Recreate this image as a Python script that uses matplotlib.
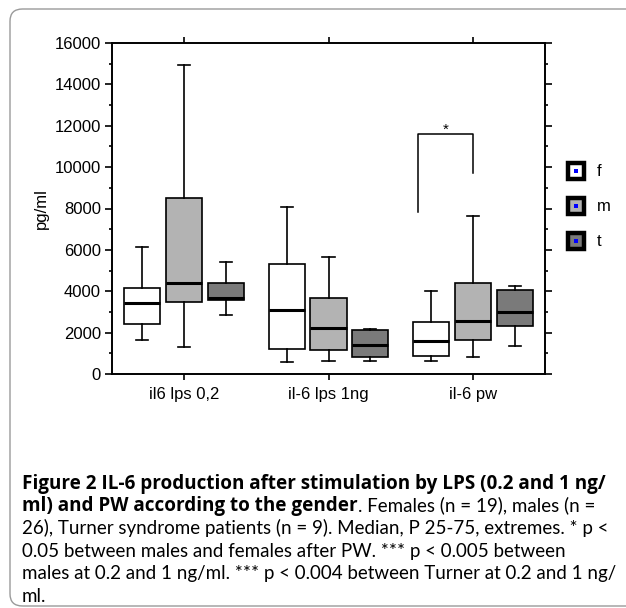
import matplotlib.pyplot as plt
from matplotlib.lines import Line2D
from matplotlib.patches import FancyBboxPatch
from matplotlib.legend_handler import HandlerTuple

categories = ['il6 lps 0,2', 'il-6 lps 1ng', 'il-6 pw']
groups = ['f', 'm', 't']
colors = {'f': '#ffffff', 'm': '#b3b3b3', 't': '#7a7a7a'}

# per group: whisker low, q1, median, q3, whisker high (one value per category)
whislo = {'f': [1650, 570, 650], 'm': [1320, 650, 810], 't': [2830, 650, 1330]}
q1 = {'f': [2410, 1230, 890], 'm': [3480, 1150, 1630], 't': [3570, 810, 2310]}
med = {'f': [3410, 3070, 1580], 'm': [4400, 2230, 2570], 't': [3670, 1390, 2990]}
q3 = {'f': [4170, 5320, 2490], 'm': [8500, 3650, 4400], 't': [4410, 2150, 4070]}
whishi = {'f': [6140, 8080, 3990], 'm': [14920, 5660, 7640], 't': [5400, 2170, 4250]}

# significance bracket after PW (females vs males)
sig_left_bottom = 7820
sig_right_bottom = 9710
sig_top = 11590

yticks = list(range(0, 16001, 2000))

caption_lines = [
    [('Figure 2 IL-6 production after stimulation by LPS (0.2 and 1 ng/', 'bold')],
    [('ml) and PW according to the gender', 'bold'),
     ('. Females (n = 19), males (n =', 'normal')],
    [('26), Turner syndrome patients (n = 9). Median, P 25-75, extremes. * p <', 'normal')],
    [('0.05 between males and females after PW. *** p < 0.005 between', 'normal')],
    [('males at 0.2 and 1 ng/ml. *** p < 0.004 between Turner at 0.2 and 1 ng/', 'normal')],
    [('ml.', 'normal')],
]

plt.rcParams['font.family'] = ['Liberation Sans', 'DejaVu Sans']

fig = plt.figure(figsize=(6.26, 6.08), dpi=100)
fig.patches.append(FancyBboxPatch((10 / 626, 2 / 608), 640 / 626, 597 / 608,
                                  boxstyle='round,pad=0,rounding_size=0.02',
                                  transform=fig.transFigure, fill=False,
                                  edgecolor='#9a9a9a', lw=1.0, clip_on=False))

ax = fig.add_axes([112 / 626, 1 - 374 / 608, 433 / 626, 331 / 608])

offsets = {'f': -0.29, 'm': 0.0, 't': 0.29}
for g in groups:
    stats = []
    for i in range(len(categories)):
        stats.append({'whislo': whislo[g][i], 'q1': q1[g][i], 'med': med[g][i],
                      'q3': q3[g][i], 'whishi': whishi[g][i], 'fliers': []})
    pos = [i + offsets[g] for i in range(len(categories))]
    ax.bxp(stats, positions=pos, widths=0.25, capwidths=0.085, patch_artist=True,
           showfliers=False, manage_ticks=False,
           boxprops=dict(facecolor=colors[g], edgecolor='black', linewidth=1.2),
           medianprops=dict(color='black', linewidth=2.2),
           whiskerprops=dict(color='black', linewidth=1.2),
           capprops=dict(color='black', linewidth=1.2))

# bracket
xl = 2 + offsets['f'] - 0.09
xr = 2 + offsets['m']
ax.plot([xl, xl, xr, xr], [sig_left_bottom, sig_top, sig_top, sig_right_bottom],
        color='black', lw=1.1)
ax.text((xl + xr) / 2, sig_top - 100, '*', ha='center', va='bottom', fontsize=11)

ax.set_xlim(-0.5, 2.5)
ax.set_ylim(0, 16000)
ax.set_xticks(range(len(categories)))
ax.set_xticklabels(categories, fontsize=12)
ax.set_yticks(yticks)
ax.set_yticklabels([str(v) for v in yticks], fontsize=12)
ax.set_yticks(range(1000, 16000, 2000), minor=True)
ax.tick_params(axis='y', which='major', direction='out', length=5, width=1.2,
               right=True, pad=3)
ax.tick_params(axis='y', which='minor', direction='out', length=2.5, width=1.2,
               right=True)
ax.tick_params(axis='x', direction='out', length=4, width=1.2, top=True, pad=5)
for s in ax.spines.values():
    s.set_linewidth(1.4)
ax.set_ylabel('pg/ml', fontsize=12, labelpad=4)

handles = []
for g in groups:
    outer = Line2D([], [], ls='none', marker='s', markersize=12,
                   markerfacecolor=colors[g], markeredgecolor='black',
                   markeredgewidth=3.2)
    inner = Line2D([], [], ls='none', marker='s', markersize=3.2,
                   markerfacecolor='#0000ff', markeredgecolor='#0000ff',
                   markeredgewidth=0)
    handles.append((outer, inner))
ax.legend(handles, groups, handler_map={tuple: HandlerTuple(ndivide=1)},
          loc='center left', bbox_to_anchor=(1.015, 0.505), frameon=False,
          fontsize=12, labelspacing=1.2, handlelength=1.2, handletextpad=0.6)

# caption: bold title run followed by regular text
styles = {'bold': dict(family=['Open Sans', 'DejaVu Sans'], fontsize=13.6, fontweight='bold'),
          'normal': dict(family=['Lato', 'DejaVu Sans'], fontsize=13.5)}
x_left = 22
line_y = [489, 511.5, 534, 556.5, 579, 601.5]

renderer = fig.canvas.get_renderer()
W = fig.bbox.width
for segs, y in zip(caption_lines, line_y):
    x = x_left
    for text, st in segs:
        t = fig.text(x / W, 1 - y / 608, text, va='baseline', ha='left', **styles[st])
        x += t.get_window_extent(renderer).width

fig.savefig('out.png', dpi=100)
